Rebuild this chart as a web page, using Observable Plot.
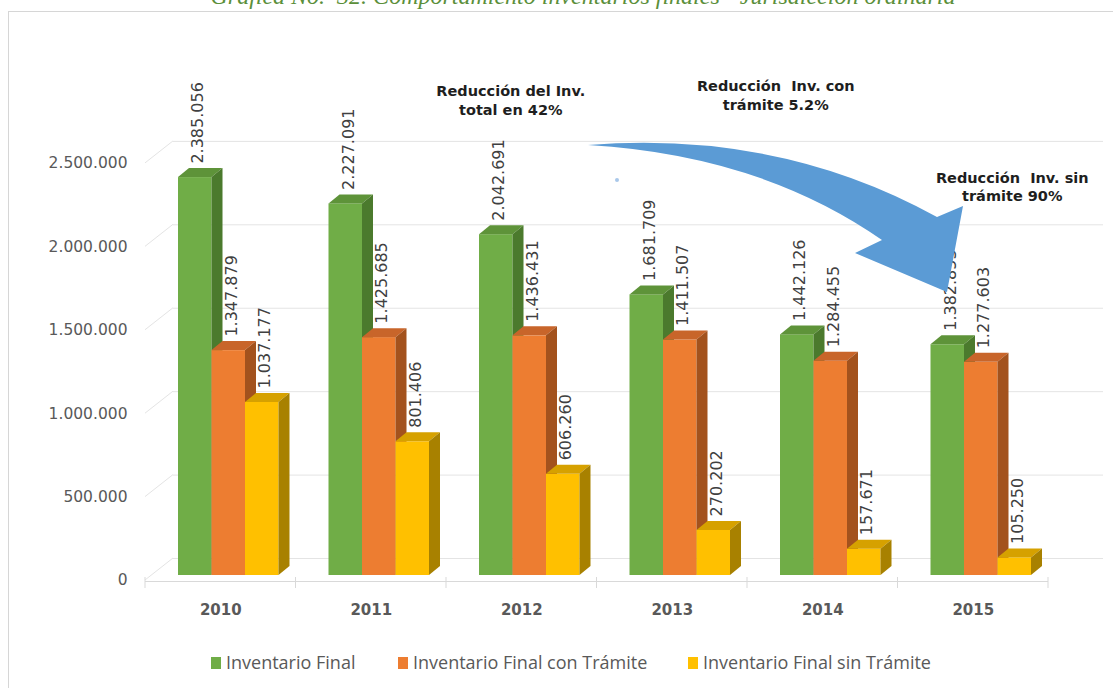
<!DOCTYPE html>
<html>
<head>
<meta charset="utf-8">
<script src="https://cdn.jsdelivr.net/npm/d3@7"></script>
<script src="https://cdn.jsdelivr.net/npm/@observablehq/plot@0.6"></script>
<style>
  html, body { margin: 0; padding: 0; background: #ffffff; overflow: hidden; }
  #page { position: relative; width: 1113px; height: 688px; overflow: hidden; }
  #frame { position: absolute; left: 8px; top: 11px; width: 1200px; height: 800px; border: 1px solid #d6d6d6; box-sizing: border-box; }
  #title { position: absolute; left: 0; top: -16px; width: 1166px; height: 36px; line-height: 24px; text-align: center;
           font-family: "Liberation Serif", serif; font-style: italic; font-size: 24px; color: #5b8f3a; white-space: nowrap; }
  #chart { position: absolute; left: 0; top: 20px; }
  #legend { position: absolute; left: 0; top: 640px; width: 1113px; height: 48px; font-family: "Open Sans", sans-serif; font-size: 18px; color: #595959; }
  .item { position: absolute; top: 10px; height: 24px; line-height: 24px; white-space: nowrap; }
  .sw { display: inline-block; width: 10px; height: 12px; vertical-align: 0px; margin-right: 5px; }
</style>
</head>
<body>
<div id="page">
  <div id="frame"></div>
  <div id="title">Gráfica No.&nbsp; 32. Comportamiento inventarios finales - Jurisdicción ordinaria</div>
  <div id="chart"></div>
  <div id="legend"></div>
</div>
<script>
// ---- data ----
const years = ["2010", "2011", "2012", "2013", "2014", "2015"];
const seriesNames = ["Inventario Final", "Inventario Final con Trámite", "Inventario Final sin Trámite"];
const invFinal = [2385056, 2227091, 2042691, 1681709, 1442126, 1382853];
const invConTramite = [1347879, 1425685, 1436431, 1411507, 1284455, 1277603];
const invSinTramite = [1037177, 801406, 606260, 270202, 157671, 105250];
const yTicks = [0, 500000, 1000000, 1500000, 2000000, 2500000];
const notes = [
  {year: "2012", value: 2853000, text: "Reducción del Inv.\ntotal en 42%"},
  {year: "2014", value: 2883000, text: "Reducción\u00a0 Inv. con\ntrámite 5.2%"},
  {year: "2015", value: 2334600, text: "Reducción\u00a0 Inv. sin\ntrámite 90%"}
];

// ---- styles ----
const frontColors = ["#70ad47", "#ed7d31", "#ffc000"];
const topColors = ["#5e9339", "#c8652a", "#d6a100"];
const sideColors = ["#4b7a2d", "#a3521d", "#a88100"];
const seriesValues = [invFinal, invConTramite, invSinTramite];
const band = 150.5, barW = 33.5, lead = 33;
const depthX = 11, depthY = 9;

const fmt = d3.formatLocale({decimal: ",", thousands: ".", grouping: [3], currency: ["$", ""]}).format(",d");

const tables = seriesValues.map((vals, i) => years.map((year, k) => ({year, value: vals[k], series: seriesNames[i]})));

const barMarks = tables.map((rows, i) => Plot.barY(rows, {
  x: "year", y: "value", fill: frontColors[i],
  insetLeft: lead + barW * i, insetRight: band - lead - barW * (i + 1)
}));
const labelMarks = tables.map((rows, i) => Plot.text(rows, {
  x: "year", y: "value", text: d => fmt(d.value), rotate: -90, textAnchor: "start",
  dx: lead + barW * i + barW / 2 - band / 2 + 3, dy: -14,
  fontSize: 16, fill: "#404040"
}));

const plot = Plot.plot({
  width: 1113, height: 620,
  marginLeft: 145, marginRight: 38, marginTop: 137.9, marginBottom: 65,
  style: {fontFamily: "DejaVu Sans", color: "#595959", background: "transparent", overflow: "visible"},
  x: {domain: years, range: [145, 1048], padding: 0, round: false, label: null},
  y: {domain: [0, 2500000], label: null},
  marks: [
    Plot.ruleY(yTicks, {dx: 28, dy: -17, stroke: "#e4e4e4"}),
    Plot.ruleY([0], {dy: 6, insetRight: 27, stroke: "#d9d9d9"}),
    ...barMarks,
    ...labelMarks,
    Plot.axisY({ticks: yTicks, tickFormat: fmt, tickSize: 0, tickPadding: 18, dy: 5, fontSize: 15.5, label: null}),
    Plot.axisX({tickSize: 0, tickPadding: 29, fontSize: 15, fontWeight: "bold", label: null}),
    Plot.text(notes, {x: "year", y: "value", text: "text", fontSize: 14.5, fontWeight: "bold", fill: "#1e1e1e", lineHeight: 1.3})
  ]
});
document.getElementById("chart").appendChild(plot);

// per-note horizontal offsets
const noteDx = [-11, -47, 39];
d3.select(plot).selectAll('g[aria-label="text"]').filter(function () {
  return d3.select(this).attr("font-weight") === "bold";
}).selectAll("text").each(function (_, i) {
  const t = d3.select(this).attr("transform") || "";
  d3.select(this).attr("transform", `translate(${noteDx[i]},0) ` + t);
});

const svg = d3.select(plot);
const xs = plot.scale("x"), ys = plot.scale("y");
const y0 = ys.apply(0);

// side-wall diagonals and floor ticks (behind everything)
const deco = svg.insert("g", "g");
yTicks.forEach(v => {
  const yy = ys.apply(v);
  deco.append("line").attr("x1", xs.range[0]).attr("y1", yy + 5).attr("x2", xs.range[0] + 28).attr("y2", yy - 17)
    .attr("stroke", "#e4e4e4");
});
for (let k = 0; k <= years.length; k++) {
  const xx = xs.range[0] + k * xs.step;
  deco.append("line").attr("x1", xx).attr("x2", xx).attr("y1", y0 + 2).attr("y2", y0 + 13).attr("stroke", "#d9d9d9");
}

// 3D faces for bars
svg.selectAll('g[aria-label="bar"]').each(function (_, si) {
  const g = d3.select(this);
  const rects = g.selectAll("rect").nodes();
  rects.forEach(r => {
    const x = +r.getAttribute("x"), y = +r.getAttribute("y"), w = +r.getAttribute("width"), h = +r.getAttribute("height");
    g.append("polygon")
      .attr("points", [[x, y], [x + depthX, y - depthY], [x + w + depthX, y - depthY], [x + w, y]].join(" "))
      .attr("fill", topColors[si]);
    g.append("polygon")
      .attr("points", [[x + w, y], [x + w + depthX, y - depthY], [x + w + depthX, y + h - depthY], [x + w, y + h]].join(" "))
      .attr("fill", sideColors[si]);
  });
});

// curved block arrow annotation
const oy = -20;
const P = (x, y) => `${x},${y + oy}`;
svg.append("path")
  .attr("d", `M${P(588,145)} Q${P(780,130)} ${P(937,217)} L${P(963,206)} L${P(947,292)} L${P(855,253)} L${P(882,240)} Q${P(760,155)} ${P(588,145)} Z`)
  .attr("fill", "#5b9bd5");
svg.append("circle").attr("cx", 617).attr("cy", 180 + oy).attr("r", 2).attr("fill", "#a9c8ea");

// legend
const legend = document.getElementById("legend");
const legendX = [211, 398, 688];
seriesNames.forEach((name, i) => {
  const div = document.createElement("div");
  div.className = "item";
  div.style.left = legendX[i] + "px";
  div.innerHTML = `<span class="sw" style="background:${frontColors[i]}"></span>${name}`;
  legend.appendChild(div);
});
</script>
</body>
</html>
